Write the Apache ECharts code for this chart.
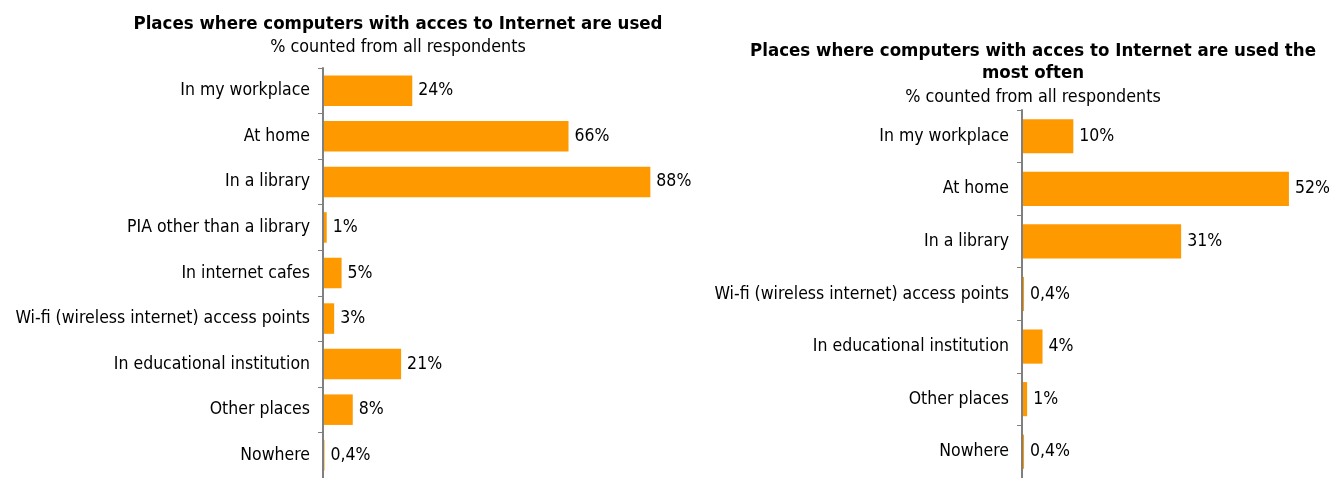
<!DOCTYPE html>
<html>
<head>
<meta charset="utf-8">
<script src="https://cdn.jsdelivr.net/npm/echarts@6/dist/echarts.min.js"></script>
<style>
  html, body { margin: 0; padding: 0; background: #fff; }
  #chart { width: 1344px; height: 478px; }
</style>
</head>
<body>
<div id="chart"></div>
<script>
// Left panel: all places where Internet-connected computers are used
const usedCategories = [
  'In my workplace', 'At home', 'In a library', 'PIA other than a library',
  'In internet cafes', 'Wi-fi (wireless internet) access points',
  'In educational institution', 'Other places', 'Nowhere'
];
const usedValues = [24, 66, 88, 1, 5, 3, 21, 8, 0.4];

// Right panel: the place used most often
const mostCategories = [
  'In my workplace', 'At home', 'In a library',
  'Wi-fi (wireless internet) access points',
  'In educational institution', 'Other places', 'Nowhere'
];
const mostValues = [10, 52, 31, 0.4, 4, 1, 0.4];

const FONT = '"DejaVu Sans Condensed", "DejaVu Sans", sans-serif';
const ORANGE = '#FF9900';
const LABEL_SIZE = 17.5;

function fmt(v) {
  return (v < 1 ? String(v).replace('.', ',') : String(v)) + '%';
}

// Category axis drawn above the bars so the axis line sits on top
function catAxis(gridIndex, cats) {
  return {
    type: 'category', gridIndex, data: cats, inverse: true, z: 3,
    axisLine: { lineStyle: { color: '#808080', width: 2 } },
    axisTick: { show: true, length: 5, lineStyle: { color: '#808080' } },
    axisLabel: { color: '#000', fontFamily: FONT, fontSize: LABEL_SIZE, margin: 13 }
  };
}

function valAxis(gridIndex, max) {
  return {
    type: 'value', gridIndex, min: 0, max,
    show: false, splitLine: { show: false }
  };
}

function barSeries(idx, values, gap) {
  return {
    type: 'bar', xAxisIndex: idx, yAxisIndex: idx,
    data: values, barCategoryGap: gap,
    itemStyle: { color: ORANGE },
    label: {
      show: true, position: 'right', distance: 6,
      color: '#000', fontFamily: FONT, fontSize: LABEL_SIZE,
      formatter: p => fmt(p.value)
    },
    silent: true, animation: false
  };
}

const chart = echarts.init(document.getElementById('chart'));
chart.setOption({
  backgroundColor: '#fff',
  title: [
    {
      text: 'Places where computers with acces to Internet are used',
      subtext: '% counted from all respondents',
      left: 393, top: 10, textAlign: 'center',
      textStyle: { fontFamily: FONT, fontWeight: 'bold', fontSize: 18.5, color: '#000' },
      subtextStyle: { fontFamily: FONT, fontSize: 17.8, color: '#000' },
      itemGap: 4
    },
    {
      text: 'Places where computers with acces to Internet are used the\nmost often',
      subtext: '% counted from all respondents',
      left: 1028, top: 35, textAlign: 'center',
      textStyle: { fontFamily: FONT, fontWeight: 'bold', fontSize: 18.5, color: '#000', lineHeight: 22 },
      subtextStyle: { fontFamily: FONT, fontSize: 17.8, color: '#000' },
      itemGap: 4
    }
  ],
  grid: [
    { left: 323, top: 68, width: 372, height: 415 },
    { left: 1022, top: 110, width: 308, height: 370 }
  ],
  xAxis: [valAxis(0, 100), valAxis(1, 60)],
  yAxis: [catAxis(0, usedCategories), catAxis(1, mostCategories)],
  series: [barSeries(0, usedValues, '33%'), barSeries(1, mostValues, '35%')]
});
</script>
</body>
</html>
